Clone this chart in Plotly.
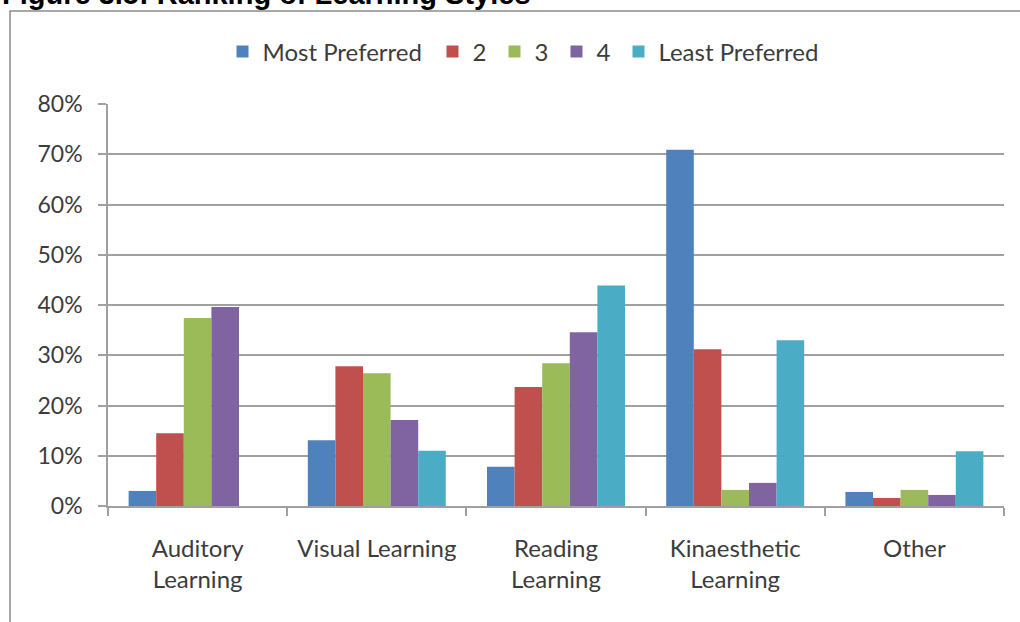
import plotly.graph_objects as go

categories = ["Auditory<br>Learning", "Visual Learning", "Reading<br>Learning", "Kinaesthetic<br>Learning", "Other"]
series_names = ["Most Preferred", "2", "3", "4", "Least Preferred"]
most_preferred = [0.030, 0.131, 0.078, 0.709, 0.028]
rank_2 = [0.145, 0.278, 0.237, 0.312, 0.016]
rank_3 = [0.374, 0.264, 0.284, 0.032, 0.032]
rank_4 = [0.396, 0.171, 0.346, 0.046, 0.022]
least_preferred = [0.0, 0.110, 0.439, 0.330, 0.109]
y_ticks = [0, 0.1, 0.2, 0.3, 0.4, 0.5, 0.6, 0.7, 0.8]
y_tick_labels = ["0%", "10%", "20%", "30%", "40%", "50%", "60%", "70%", "80%"]
title_text = "Figure 3.5: Ranking of Learning Styles"

colors = ["#4F81BD", "#C0504D", "#9BBB59", "#8064A2", "#4BACC6"]
legend_widths = [165, 17, 17, 17, None]
all_values = [most_preferred, rank_2, rank_3, rank_4, least_preferred]

W, H = 1020, 622
L, R, T, B = 108, 16, 104, 116
pw, ph = W - L - R, H - T - B


def px(x):
    return (x - L) / pw


def py(y):
    return (H - B - y) / ph


fig = go.Figure()
for name, vals, col, lw in zip(series_names, all_values, colors, legend_widths):
    tr = go.Bar(x=categories, y=vals, name=name,
                marker=dict(color=col, line=dict(width=0)))
    if lw is not None:
        tr.legendwidth = lw
    fig.add_trace(tr)

txt = "#3c3c3c"
grid = "#a0a0a0"
fig.update_layout(
    width=W, height=H,
    margin=dict(l=L, r=R, t=T, b=B),
    paper_bgcolor="white", plot_bgcolor="white",
    barmode="group", bargap=0.23, bargroupgap=0,
    font=dict(family="Lato", size=23, color=txt),
    showlegend=True,
    legend=dict(orientation="h", x=px(523), xanchor="center",
                y=py(52), yanchor="middle",
                font=dict(family="Lato", size=24, color=txt),
                bgcolor="rgba(0,0,0,0)"),
    xaxis=dict(showline=True, linecolor=grid, linewidth=1.5,
               ticks="outside", tickson="boundaries", ticklen=8,
               tickcolor=grid, tickwidth=1.5,
               ticklabelstandoff=20,
               tickfont=dict(family="Lato", size=24, color=txt),
               showgrid=False),
    yaxis=dict(range=[0, 0.8], tickvals=y_ticks, ticktext=y_tick_labels,
               showline=True, linecolor=grid, linewidth=1.5,
               ticks="outside", ticklen=8, tickcolor=grid, tickwidth=1.5,
               ticklabelstandoff=11,
               showgrid=True, gridcolor=grid, gridwidth=1.5,
               zeroline=False,
               tickfont=dict(family="Lato", size=23, color=txt)),
)

fig.add_annotation(text="<b>" + title_text + "</b>", xref="paper", yref="paper",
                   x=px(0), xanchor="left", y=py(12.5), yanchor="bottom",
                   showarrow=False,
                   font=dict(family="Liberation Sans", size=29, color="black"))

fig.add_shape(type="rect", xref="paper", yref="paper",
              x0=px(10), y0=py(11), x1=px(1040), y1=py(660),
              line=dict(color="#8c8c8c", width=1.5), fillcolor="rgba(0,0,0,0)",
              layer="below")

fig.write_html("out.html", config={"displayModeBar": False},
               post_script="document.body.style.margin='0';document.body.style.overflow='hidden';")
